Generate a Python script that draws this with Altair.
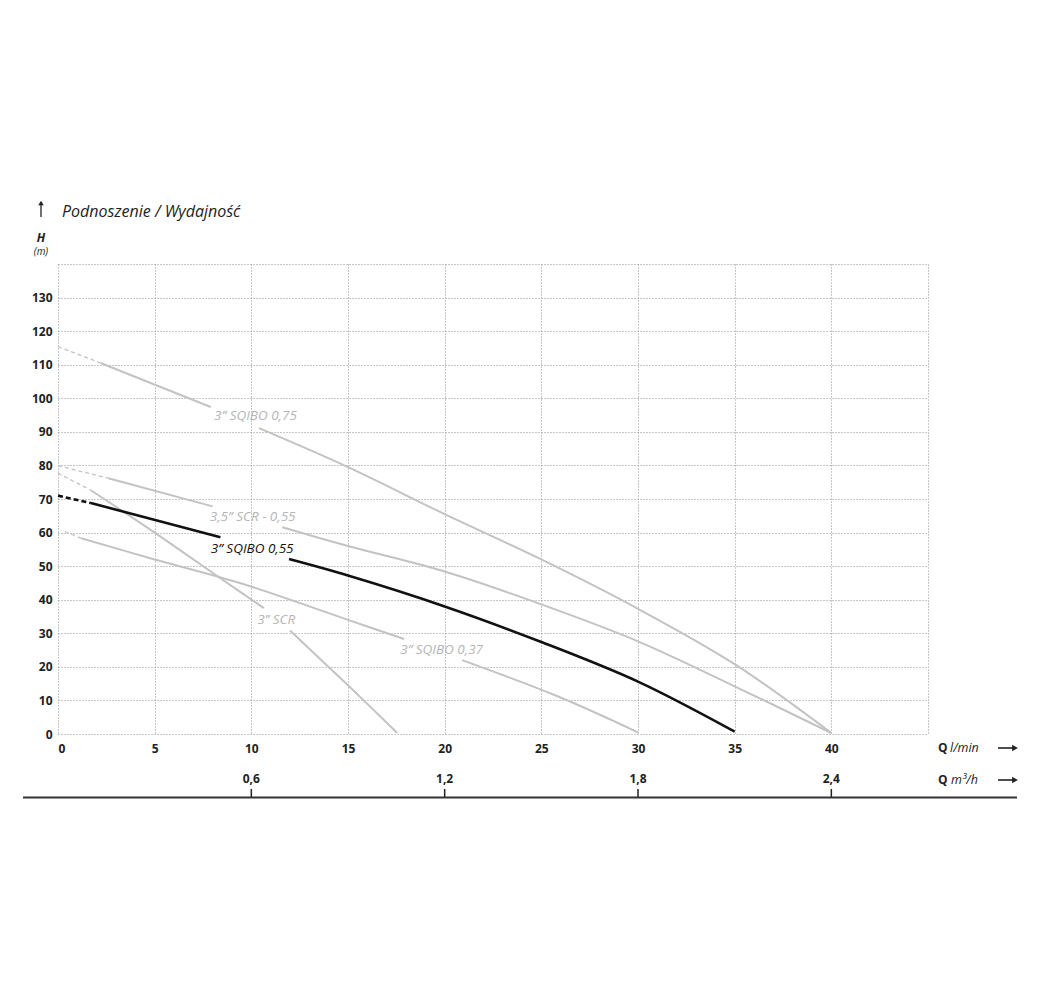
import altair as alt
import pandas as pd

# ---------------- data ----------------
# Q in l/min, H in m; each curve split into a dashed start and two solid parts (gap = label)
SQIBO075_DASH_X = [0, 2.2]
SQIBO075_DASH_Y = [115.4, 110.5]
SQIBO075_A_X = [2.2, 7.9]
SQIBO075_A_Y = [110.5, 97.4]
SQIBO075_B_X = [10.4, 15, 20, 25, 30, 35, 40]
SQIBO075_B_Y = [91.1, 79.5, 65.5, 52, 37.3, 20.8, 0.3]

SCR35_DASH_X = [0, 2.6]
SCR35_DASH_Y = [79.9, 76.2]
SCR35_A_X = [2.6, 8.0]
SCR35_A_Y = [76.2, 67.8]
SCR35_B_X = [11.6, 15, 20, 25, 30, 35, 40]
SCR35_B_Y = [61.6, 56, 48.4, 38.6, 27.6, 14.2, 0.3]

SQIBO055_DASH_X = [0, 1.7]
SQIBO055_DASH_Y = [71, 68.8]
SQIBO055_A_X = [1.7, 8.4]
SQIBO055_A_Y = [68.8, 58.6]
SQIBO055_B_X = [11.95, 15, 20, 25, 30, 35]
SQIBO055_B_Y = [52.1, 47.2, 38, 27.4, 15.6, 0.7]

SCR3_DASH_X = [0, 1.7]
SCR3_DASH_Y = [77.7, 72.6]
SCR3_A_X = [1.7, 5, 8.4, 10.65]
SCR3_A_Y = [72.6, 60, 46.4, 37.5]
SCR3_B_X = [12, 15, 17.55]
SCR3_B_Y = [30.8, 14.5, 0.3]

SQIBO037_DASH_X = [0.35, 1.2]
SQIBO037_DASH_Y = [60.3, 58.3]
SQIBO037_A_X = [1.2, 5, 9.45, 15, 17.9]
SQIBO037_A_Y = [58.3, 52, 44.9, 34, 28.3]
SQIBO037_B_X = [20.9, 25.9, 30]
SQIBO037_B_Y = [22, 11.1, 0.5]

LABEL_TEXT = ["3\u201d SQIBO 0,75", "3,5\u201d SCR - 0,55", "3\u201d SQIBO 0,55", "3\u201d SCR", "3\u201d SQIBO 0,37"]
LABEL_X = [8.07, 7.85, 7.9, 10.3, 17.7]
LABEL_Y = [94.6, 64.6, 55.2, 34.0, 25.1]
LABEL_KIND = ["gray", "gray", "black", "gray", "gray"]

Q_LMIN_TICKS = list(range(0, 46, 5))
H_TICKS = list(range(0, 141, 10))
M3H_POS = [10, 20, 30, 40]
M3H_LABELS = ["0,6", "1,2", "1,8", "2,4"]

GRAY = "#c3c3c3"
GRAY_TXT = "#b5b5b5"
BLACK = "#111111"

rows = []
def add(curve, kind, part, xs, ys):
    for x, y in zip(xs, ys):
        rows.append({"curve": curve, "kind": kind, "part": part,
                     "seg": curve + "_" + part, "x": x, "y": y})

add("075", "gray", "dash", SQIBO075_DASH_X, SQIBO075_DASH_Y)
add("075", "gray", "a", SQIBO075_A_X, SQIBO075_A_Y)
add("075", "gray", "b", SQIBO075_B_X, SQIBO075_B_Y)
add("scr35", "gray", "dash", SCR35_DASH_X, SCR35_DASH_Y)
add("scr35", "gray", "a", SCR35_A_X, SCR35_A_Y)
add("scr35", "gray", "b", SCR35_B_X, SCR35_B_Y)
add("scr3", "gray", "dash", SCR3_DASH_X, SCR3_DASH_Y)
add("scr3", "gray", "a", SCR3_A_X, SCR3_A_Y)
add("scr3", "gray", "b", SCR3_B_X, SCR3_B_Y)
add("037", "gray", "dash", SQIBO037_DASH_X, SQIBO037_DASH_Y)
add("037", "gray", "a", SQIBO037_A_X, SQIBO037_A_Y)
add("037", "gray", "b", SQIBO037_B_X, SQIBO037_B_Y)
add("055", "black", "dash", SQIBO055_DASH_X, SQIBO055_DASH_Y)
add("055", "black", "a", SQIBO055_A_X, SQIBO055_A_Y)
add("055", "black", "b", SQIBO055_B_X, SQIBO055_B_Y)
curves = pd.DataFrame(rows)

labels = pd.DataFrame({"text": LABEL_TEXT, "x": LABEL_X, "y": LABEL_Y,
                       "color": [GRAY_TXT if k == "gray" else BLACK for k in LABEL_KIND]})
m3 = pd.DataFrame({"q": M3H_POS, "lab": M3H_LABELS})

FONT = "Open Sans"
W, H = 870, 470

xs = alt.Scale(domain=[0, 45], nice=False, zero=False)
ys = alt.Scale(domain=[0, 140], nice=False, zero=False)

x_axis = alt.Axis(values=Q_LMIN_TICKS, grid=True, gridDash=[1, 2], gridColor="#8f8f8f",
                  gridWidth=1, domain=False, ticks=False, labelFont=FONT,
                  labelFontWeight="bold", labelFontSize=12, labelColor="#222",
                  labelPadding=9, labelFlush=True,
                  labelExpr="datum.value == 45 ? '' : datum.label", title=None)
y_axis = alt.Axis(values=H_TICKS, grid=True, gridDash=[1, 2], gridColor="#8f8f8f",
                  gridWidth=1, domain=False, ticks=False, labelFont=FONT,
                  labelFontWeight="bold", labelFontSize=12, labelColor="#222",
                  labelPadding=6,
                  labelExpr="datum.value == 140 ? '' : (datum.value == 0 ? '0\u2007' : datum.label)",
                  title=None)

def X(f):
    return alt.X(f, type="quantitative", scale=xs, axis=x_axis)
def Y(f):
    return alt.Y(f, type="quantitative", scale=ys, axis=y_axis)

base = alt.Chart(curves)

def line_layer(kind, dashed, color, width, dash=None):
    cond = f"datum.kind == '{kind}' && " + ("datum.part == 'dash'" if dashed else "datum.part != 'dash'")
    kw = dict(color=color, strokeWidth=width, interpolate="catmull-rom", strokeCap="butt")
    if dash:
        kw["strokeDash"] = dash
    return base.transform_filter(cond).mark_line(**kw).encode(
        x=X("x"), y=Y("y"), detail="seg:N", order="x:Q")

gray_dash = line_layer("gray", True, GRAY, 1.3, [4, 3])
gray_solid = line_layer("gray", False, GRAY, 2)
black_dash = line_layer("black", True, BLACK, 2.6, [5, 3])
black_solid = line_layer("black", False, BLACK, 2.6)

label_layer = alt.Chart(labels).mark_text(
    align="left", baseline="middle", font=FONT, fontStyle="italic", fontSize=13.5
).encode(x=X("x"), y=Y("y"), text="text:N", color=alt.Color("color:N", scale=None))

# second (m3/h) axis
m3_ticks = alt.Chart(m3).mark_rule(color="#222", strokeWidth=1.5).encode(
    x=X("q"), y=alt.value(525), y2=alt.value(533.5))
m3_text = alt.Chart(m3).mark_text(
    font=FONT, fontWeight="bold", fontSize=12, color="#222", baseline="middle", align="center"
).encode(x=X("q"), y=alt.value(515), text="lab:N")

one = alt.Chart(pd.DataFrame({"k": [0]}))
bottom_line = one.mark_rule(color="#333", strokeWidth=2).encode(
    x=alt.value(-35), x2=alt.value(959), y=alt.value(533.5))

def txt(t, x, y, size, weight="normal", style="normal", align="left", color="#222"):
    return alt.Chart(pd.DataFrame({"t": [t]})).mark_text(
        font=FONT, fontSize=size, fontWeight=weight, fontStyle=style,
        align=align, baseline="middle", color=color
    ).encode(x=alt.value(x), y=alt.value(y), text="t:N")

def arrow_right(x0, y):
    shaft = one.mark_rule(color="#222", strokeWidth=1.6).encode(
        x=alt.value(x0), x2=alt.value(x0 + 15), y=alt.value(y))
    head = one.mark_point(shape="triangle-right", filled=True, size=45, color="#222", opacity=1).encode(
        x=alt.value(x0 + 17), y=alt.value(y))
    return shaft + head

title_shaft = one.mark_rule(color="#222", strokeWidth=1.3).encode(
    x=alt.value(-17), y=alt.value(-59), y2=alt.value(-47))
title_head = one.mark_point(shape="triangle-up", filled=True, size=30, color="#222", opacity=1).encode(
    x=alt.value(-17), y=alt.value(-61))

annotations = (
    txt("Podnoszenie / Wydajno\u015b\u0107", 4, -52, 16, style="italic")
    + txt("H", -17, -26, 12, weight="bold", style="italic", align="center")
    + txt("(m)", -17, -12, 10, style="italic", align="center")
    + txt("Q", 880, 484, 12, weight="bold")
    + txt("l/min", 892, 484, 12.5, style="italic")
    + txt("Q", 880, 516, 12, weight="bold")
    + txt("m\u00b3/h", 893, 516, 12.5, style="italic")
    + arrow_right(940, 484)
    + arrow_right(940, 516)
    + title_shaft + title_head
)

chart = alt.layer(
    gray_dash, gray_solid, black_dash, black_solid, label_layer,
    m3_ticks, m3_text, bottom_line, annotations
).properties(
    width=W, height=H,
    autosize=alt.AutoSizeParams(type="none"),
    padding={"left": 50, "top": 256, "right": 100, "bottom": 70},
    background="white",
).configure_view(stroke=None)

chart.save("out.html", embed_options={"renderer": "svg", "actions": False})
